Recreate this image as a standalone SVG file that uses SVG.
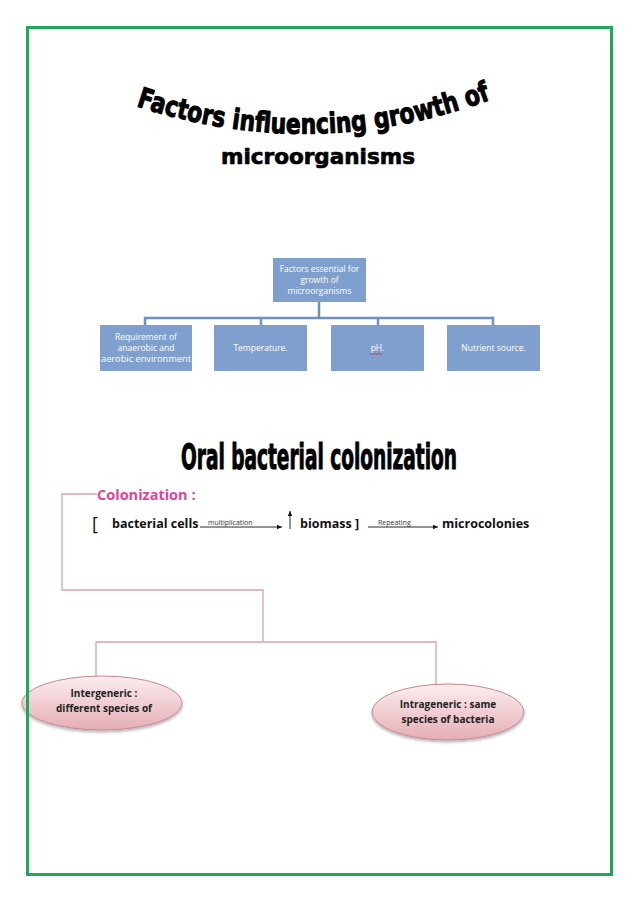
<svg xmlns="http://www.w3.org/2000/svg" width="638" height="903" viewBox="0 0 638 903">
<style>
.box{fill:#7f9fcf;}
.bt{font-family:"Open Sans","Liberation Sans",sans-serif;font-size:8.5px;fill:#ffffff;text-anchor:middle;}
.oc{stroke:#7090c0;stroke-width:2.5;fill:none;}
.pc{stroke:#d8a2aa;stroke-width:1.3;fill:none;}
.body{font-family:"Open Sans","Liberation Sans",sans-serif;font-size:12.5px;font-weight:bold;fill:#111;}
.small{font-family:"Open Sans","Liberation Sans",sans-serif;font-size:7px;fill:#333;}
.et{font-family:"Open Sans","Liberation Sans",sans-serif;font-size:10px;font-weight:bold;fill:#222;text-anchor:middle;}
.ell{fill:url(#eg);stroke:#c48890;stroke-width:1;}
.wa{font-family:"DejaVu Sans","Liberation Sans",sans-serif;font-weight:bold;fill:#000;stroke:#000;stroke-linejoin:round;}
</style>
<defs>
<linearGradient id="eg" x1="0" y1="0" x2="0" y2="1">
<stop offset="0" stop-color="#fbeef0"/>
<stop offset="1" stop-color="#e5adb5"/>
</linearGradient>
<filter id="sh" x="-10%" y="-10%" width="130%" height="140%">
<feGaussianBlur in="SourceAlpha" stdDeviation="1.5"/>
<feOffset dx="0" dy="2" result="b"/>
<feComponentTransfer><feFuncA type="linear" slope="0.3"/></feComponentTransfer>
<feMerge><feMergeNode/><feMergeNode in="SourceGraphic"/></feMerge>
</filter>
<marker id="ah" markerWidth="6" markerHeight="6" refX="5" refY="3" orient="auto" markerUnits="userSpaceOnUse">
<path d="M0,0.8 L5,3 L0,5.2 Z" fill="#111"/>
</marker>
<path id="arc1" d="M136,106 Q318,166 500,96"/>
</defs>
<rect width="638" height="903" fill="#ffffff"/>

<g id="title1">
<text class="wa" font-size="28" stroke-width="1.1"><textPath href="#arc1" textLength="362" lengthAdjust="spacingAndGlyphs">Factors influencing growth of</textPath></text>
<text class="wa" x="318" y="164" font-size="22" stroke-width="0.7" text-anchor="middle" textLength="194" lengthAdjust="spacingAndGlyphs">microorganisms</text>
</g>

<g id="connectors">
<path class="oc" d="M319,302 V318 M145,325 V318 H493 V325 M261,318 V325 M378,318 V325"/>
<path class="pc" d="M97,494 H62 V590 H263 V642 M96,676 V642 H436 V684"/>
</g>

<g id="n-top">
<rect class="box" x="273" y="258" width="93" height="44"/>
<text class="bt" x="319.5" y="272">Factors essential for</text>
<text class="bt" x="319.5" y="283">growth of</text>
<text class="bt" x="319.5" y="294">microorganisms</text>
</g>
<g id="n-req">
<rect class="box" x="100" y="325" width="92" height="46"/>
<text class="bt" x="146" y="340">Requirement of</text>
<text class="bt" x="146" y="351">anaerobic and</text>
<text class="bt" x="146" y="362" textLength="90" lengthAdjust="spacingAndGlyphs">aerobic environment</text>
</g>
<g id="n-temp">
<rect class="box" x="214" y="325" width="93" height="46"/>
<text class="bt" x="260.5" y="351">Temperature.</text>
</g>
<g id="n-ph">
<rect class="box" x="331" y="325" width="93" height="46"/>
<text class="bt" x="377.5" y="351">pH.</text>
<path d="M370,354 q1,-1.5 2,0 t2,0 t2,0 t2,0 t2,0 t2,0" stroke="#d02020" stroke-width="0.7" fill="none"/>
</g>
<g id="n-nut">
<rect class="box" x="447" y="325" width="93" height="46"/>
<text class="bt" x="493.5" y="351">Nutrient source.</text>
</g>

<g id="title2">
<text x="319" y="469" font-family="'DejaVu Sans Condensed','Liberation Sans',sans-serif" font-weight="bold" font-size="35" text-anchor="middle" textLength="276" lengthAdjust="spacingAndGlyphs" fill="#000" stroke="#000" stroke-width="1">Oral bacterial colonization</text>
</g>

<g id="colonization">
<text x="97" y="500" font-family="'Open Sans','Liberation Sans',sans-serif" font-size="14.5" font-weight="bold" fill="#e0449a">Colonization :</text>
<text x="92" y="530" font-family="'Open Sans','Liberation Sans',sans-serif" font-size="18" fill="#111">[</text>
<text class="body" x="112" y="528">bacterial cells</text>
<line x1="200" y1="527" x2="282" y2="527" stroke="#111" stroke-width="0.9" marker-end="url(#ah)"/>
<text class="small" x="208" y="525">multiplication</text>
<line x1="290" y1="529" x2="290" y2="511" stroke="#111" stroke-width="0.9" marker-end="url(#ah)"/>
<text class="body" x="300" y="528">biomass ]</text>
<line x1="368" y1="527" x2="438" y2="527" stroke="#111" stroke-width="0.9" marker-end="url(#ah)"/>
<text class="small" x="378" y="525">Repeating</text>
<text class="body" x="442" y="528">microcolonies</text>
</g>

<g id="n-inter">
<ellipse class="ell" cx="102" cy="703" rx="80" ry="27" filter="url(#sh)"/>
<text class="et" x="104" y="697">Intergeneric :</text>
<text class="et" x="104" y="712">different species of</text>
</g>
<g id="n-intra">
<ellipse class="ell" cx="448" cy="712" rx="76" ry="28" filter="url(#sh)"/>
<text class="et" x="448" y="708">Intrageneric : same</text>
<text class="et" x="448" y="723">species of bacteria</text>
</g>

<rect x="27.5" y="27.5" width="584" height="847" fill="none" stroke="#1fa85a" stroke-width="3"/>
</svg>
